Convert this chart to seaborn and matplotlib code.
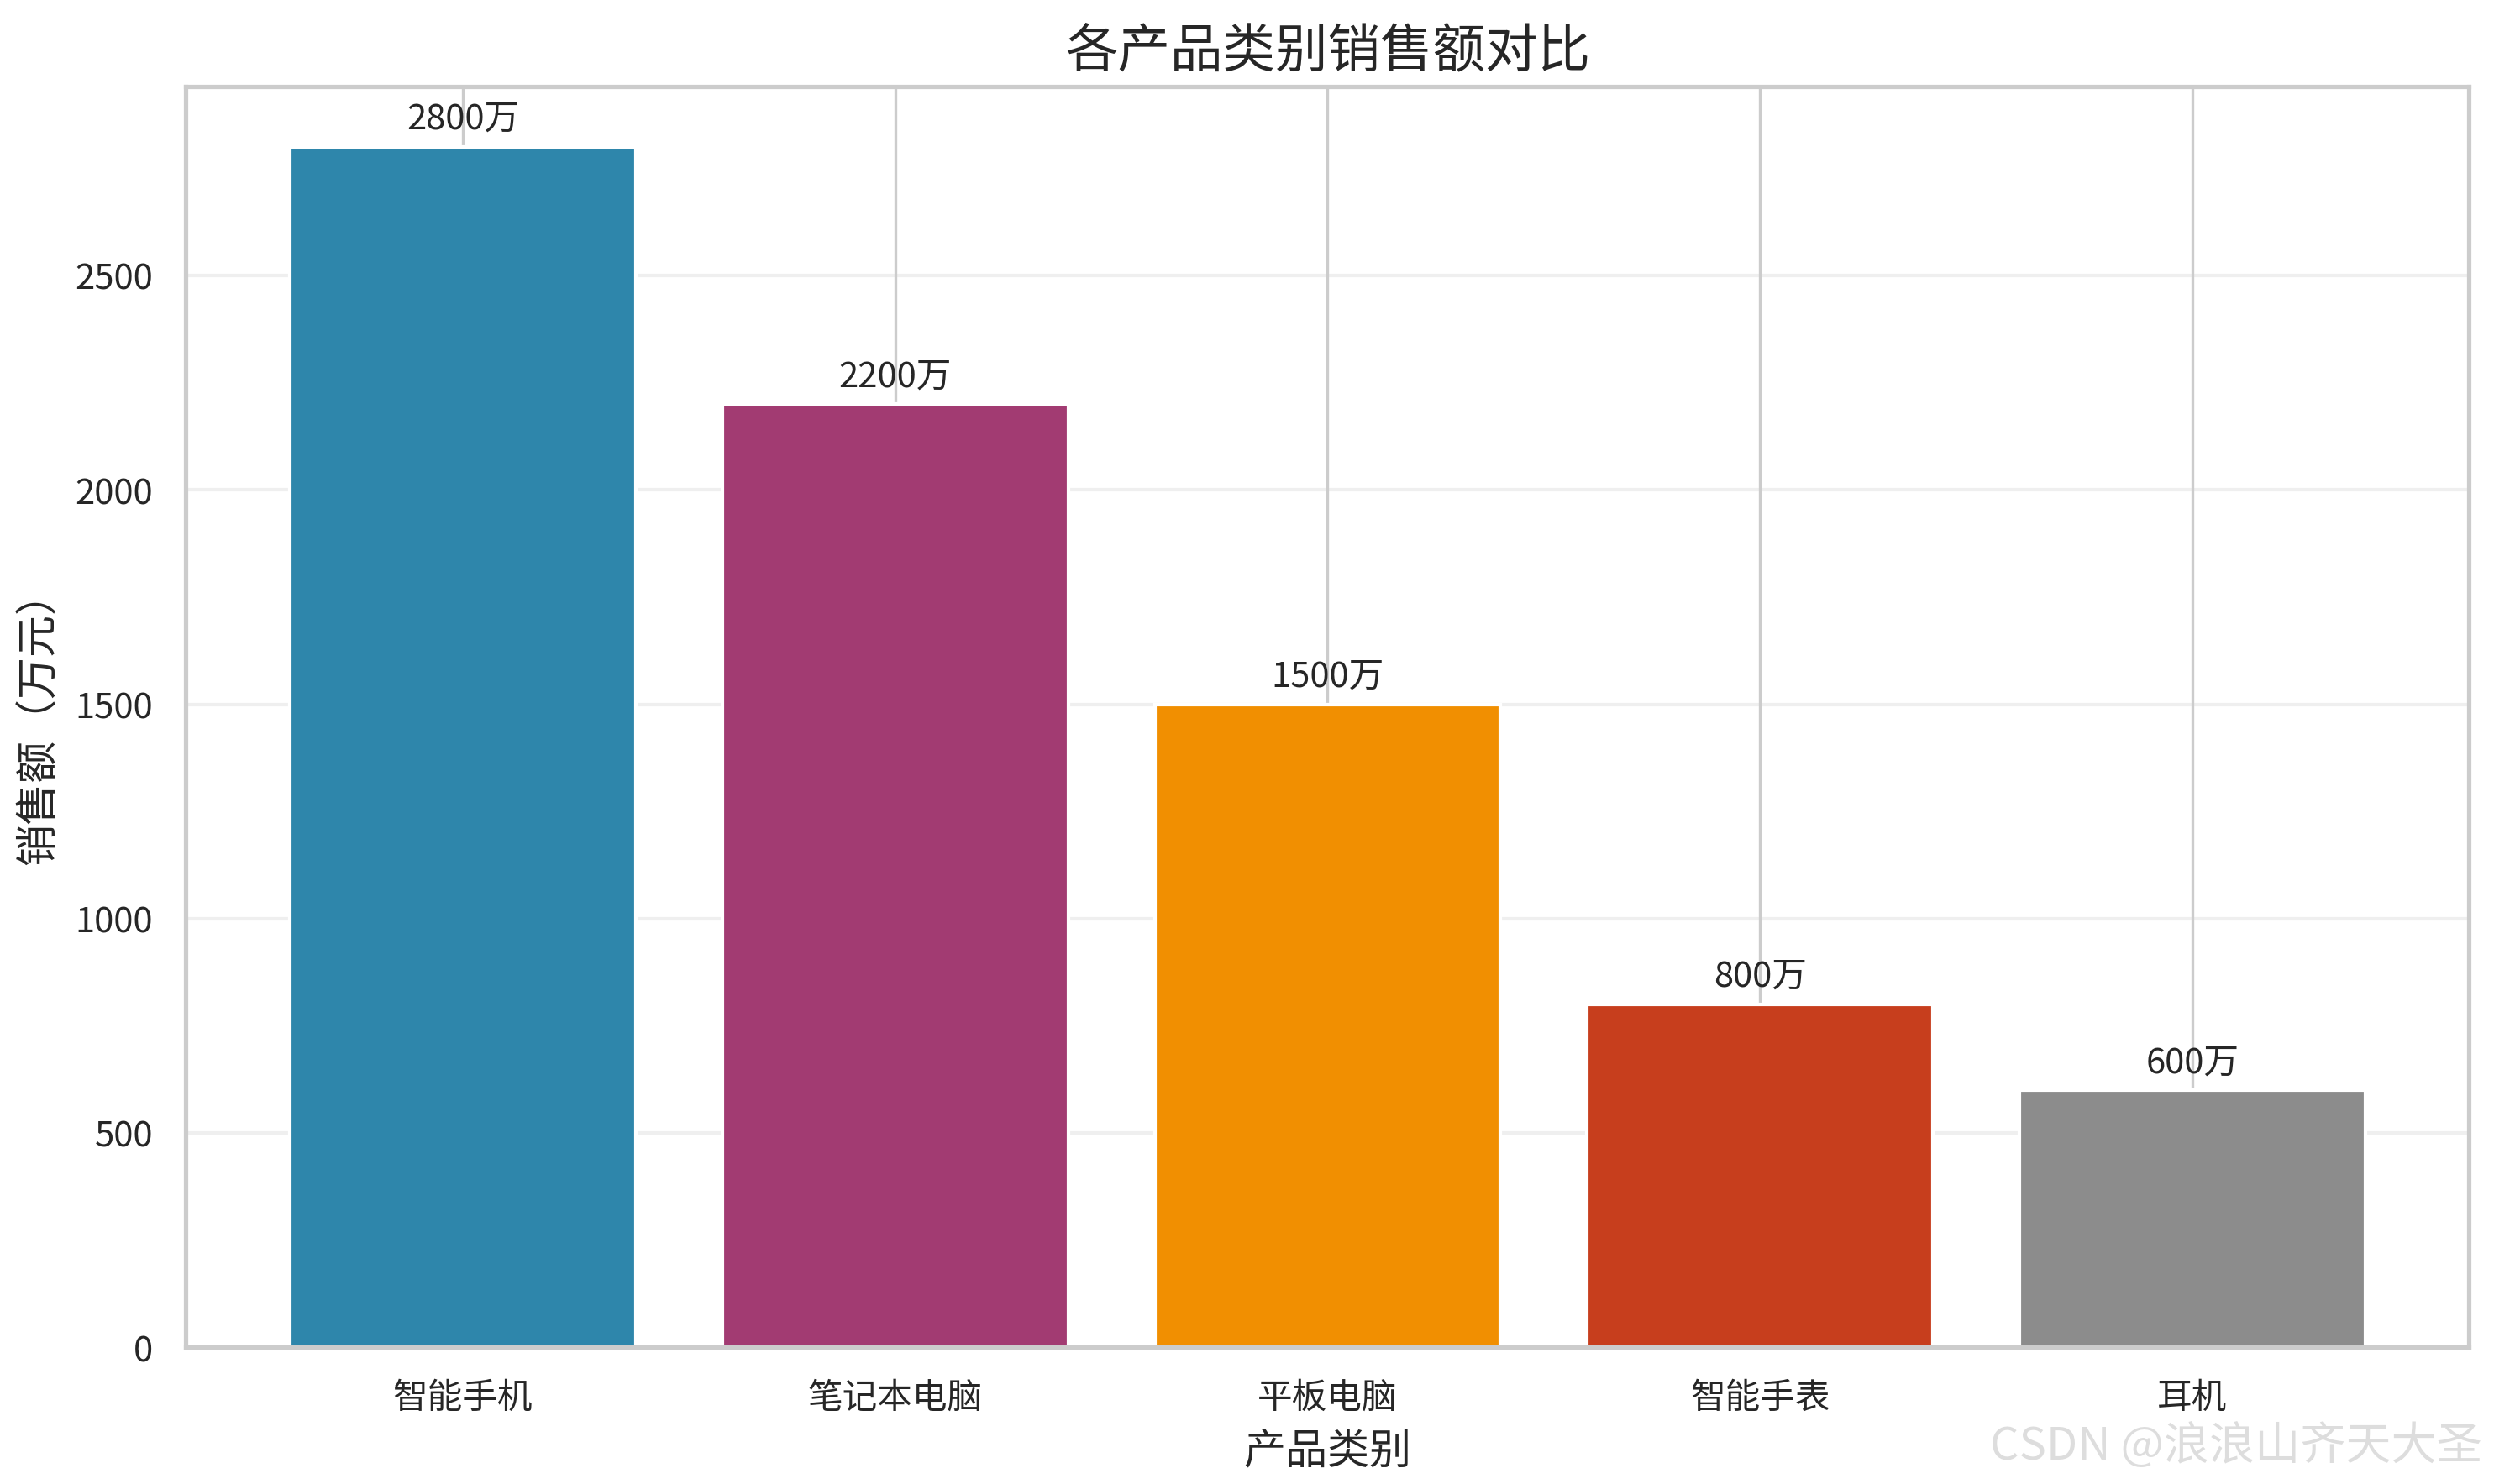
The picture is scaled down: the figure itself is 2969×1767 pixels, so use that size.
import matplotlib
matplotlib.use("Agg")
import matplotlib.pyplot as plt
import seaborn as sns
import pandas as pd

categories = ["智能手机", "笔记本电脑", "平板电脑", "智能手表", "耳机"]
sales = [2800, 2200, 1500, 800, 600]
colors = ["#2E86AB", "#A23B72", "#F18F01", "#C73E1D", "#8C8C8C"]

sns.set_theme(style="whitegrid")
plt.rcParams['font.family'] = ['Noto Sans CJK SC', 'DejaVu Sans']
plt.rcParams['axes.unicode_minus'] = False

df = pd.DataFrame({"cat": categories, "val": sales})
fig = plt.figure(figsize=(9.897, 5.893), dpi=300)
ax = fig.add_axes([0.0746, 0.092, 0.9154, 0.849])
sns.barplot(data=df, x="cat", y="val", hue="cat", palette=colors, ax=ax,
            width=0.8, saturation=1, legend=False, zorder=1)
ax.set_xlim(-0.64, 4.64)
ax.set_ylim(0, 2940)
ax.yaxis.grid(True, alpha=0.3)
ax.xaxis.grid(True, color="#cccccc", linewidth=0.8)
ax.set_axisbelow(True)
for i, v in enumerate(sales):
    ax.text(i, v + 25, f"{v}万", ha="center", va="bottom", fontsize=10)
ax.set_title("各产品类别销售额对比", fontsize=15, pad=6)
ax.set_xlabel("产品类别", fontsize=12)
ax.set_ylabel("销售额（万元）", fontsize=12)
ax.tick_params(labelsize=10)
for s in ax.spines.values():
    s.set_color("#cccccc")
fig.text(0.995, 0.01, "CSDN @浪浪山齐天大圣", ha="right", va="bottom",
         fontsize=13, color="#dddddd")
fig.savefig("out.png", dpi=300)
